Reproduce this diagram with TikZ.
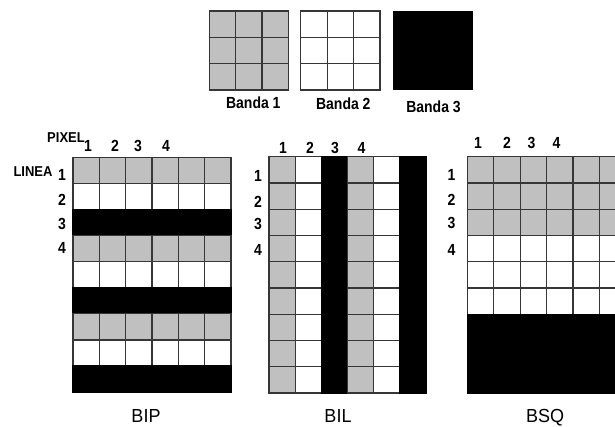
\documentclass[tikz,border=0pt]{standalone}
\usepackage{fontspec}
\usepackage{graphicx}
\setmainfont{Liberation Sans}
\usetikzlibrary{positioning}
\definecolor{bandgray}{HTML}{C0C0C0}
\definecolor{gridline}{HTML}{363636}
\colorlet{band0}{bandgray}
\colorlet{band1}{white}
\colorlet{band2}{black}
\colorlet{line0}{gridline}
\colorlet{line1}{gridline}
\colorlet{line2}{black}
\newcommand{\tall}[2][1.15]{\scalebox{1}[#1]{#2}}

\begin{document}
\begin{tikzpicture}[
  x=1pt, y=-1pt,
  cell/.style={line width=1.2pt},
  num/.style={font=\bfseries\fontsize{14}{14}\selectfont, inner sep=0pt},
  tag/.style={font=\bfseries\fontsize{13}{13}\selectfont, inner sep=0pt},
  band/.style={font=\bfseries\fontsize{14}{14}\selectfont, inner sep=0pt},
  title/.style={font=\fontsize{18}{18}\selectfont, inner sep=0pt, anchor=base},
]
  \path[use as bounding box, clip] (0,0) rectangle (615,427);
  \fill[white] (0,0) rectangle (615,427);

  % the three bands
  \foreach \i in {0,1,2}
    \foreach \j in {0,1,2} {
      \draw[cell, draw=gridline, fill=bandgray] ({209.3+26.33*\i},{11+26.33*\j}) rectangle +(26.33,26.33);
      \draw[cell, draw=gridline, fill=white] ({300.7+26.43*\i},{11+26.33*\j}) rectangle +(26.43,26.33);
    }
  \fill[black] (393.3,10.7) rectangle (473.3,90);
  \node[band] (banda1) at (253.3,103) {\tall{Banda 1}};
  \node[band] (banda2) at (343.3,104) {\tall{Banda 2}};
  \node[band] (banda3) at (433.5,107) {\tall{Banda 3}};

  % BIP: band interleaved by pixel
  \foreach \r in {0,...,8}
    \foreach \c in {0,...,5} {
      \pgfmathtruncatemacro\k{mod(\r,3)}
      \draw[cell, draw=line\k, fill=band\k] ({73+26.33*\c},{157.2+26.1*\r}) rectangle +(26.33,26.1);
    }
  \node[tag] (pixel) at (66,138) {\tall[1.1]{PIXEL}};
  \node[tag] (linea) at (33,172) {\tall[1.1]{LINEA}};
  \foreach \n/\x in {1/88,2/115,3/138,4/166}
    \node[num] (bipc\n) at (\x,146) {\tall{\n}};
  \foreach \n/\y in {1/175,2/200,3/224,4/248}
    \node[num] (bipr\n) at (62,\y) {\tall{\n}};
  \node[title] (bip) at (146,422) {\tall[1.05]{BIP}};

  % BIL: band interleaved by line
  \foreach \r in {0,...,8}
    \foreach \c in {0,...,5} {
      \pgfmathtruncatemacro\k{mod(\c,3)}
      \draw[cell, draw=line\k, fill=band\k] ({269+26.17*\c},{156.7+26.26*\r}) rectangle +(26.17,26.26);
    }
  \foreach \n/\x in {1/283,2/310,3/335,4/361.5}
    \node[num] (bilc\n) at (\x,148) {\tall{\n}};
  \foreach \n/\y in {1/176,2/201.5,3/224,4/250}
    \node[num] (bilr\n) at (258,\y) {\tall{\n}};
  \node[title] (bil) at (338,422) {\tall[1.05]{BIL}};

  % BSQ: band sequential
  \foreach \r in {0,...,8}
    \foreach \c in {0,...,5} {
      \pgfmathtruncatemacro\k{int(\r/3)}
      \draw[cell, draw=line\k, fill=band\k] ({467.3+26.4*\c},{156.7+26.26*\r}) rectangle +(26.4,26.26);
    }
  \foreach \n/\x in {1/478,2/507,3/531.5,4/556.5}
    \node[num] (bsqc\n) at (\x,143) {\tall{\n}};
  \foreach \n/\y in {1/175,2/200,3/223,4/250}
    \node[num] (bsqr\n) at (451.5,\y) {\tall{\n}};
  \node[title] (bsq) at (545,422) {\tall[1.05]{BSQ}};
\end{tikzpicture}
\end{document}
